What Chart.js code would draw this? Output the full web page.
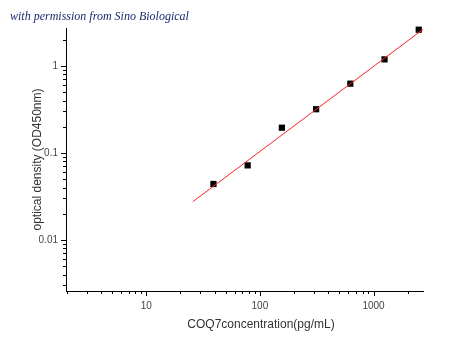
<!DOCTYPE html>
<html>
<head>
<meta charset="utf-8">
<script src="https://cdn.jsdelivr.net/npm/chart.js@4/dist/chart.umd.min.js"></script>
<style>
html,body{margin:0;padding:0;background:#fff;}
#c{display:block;}
</style>
</head>
<body>
<canvas id="c" width="450" height="358"></canvas>
<script>
// ---- data ----
const concentrations = [39.06, 78.13, 156.25, 312.5, 625, 1250, 2500];
const odValues = [0.044, 0.072, 0.195, 0.318, 0.626, 1.19, 2.61];
const fitConc = [25.7, 2735];
const fitOd = [0.0275, 2.64];
const xTickValues = [10, 100, 1000];
const xTickLabels = ['10', '100', '1000'];
const yTickValues = [0.01, 0.1, 1];
const yTickLabels = ['0.01', '0.1', '1'];
const watermark = 'with permission from Sino Biological';
const xTitle = 'COQ7concentration(pg/mL)';
const yTitle = 'optical density (OD450nm)';

const points = concentrations.map((x, i) => ({x: x, y: odValues[i]}));
const fitLine = fitConc.map((x, i) => ({x: x, y: fitOd[i]}));

function logMinorTicks(min, max) {
  const out = [];
  for (let e = Math.floor(Math.log10(min)) ; e <= Math.ceil(Math.log10(max)); e++) {
    for (let k = 1; k <= 9; k++) {
      const v = k * Math.pow(10, e);
      if (v >= min * 0.9999 && v <= max * 1.0001) out.push({v: v, major: k === 1});
    }
  }
  return out;
}

const tickMarks = {
  id: 'tickMarks',
  afterDraw(chart) {
    const ctx = chart.ctx;
    const xs = chart.scales.x, ys = chart.scales.y;
    const area = chart.chartArea;
    ctx.save();
    ctx.strokeStyle = '#000';
    ctx.lineWidth = 1;
    ctx.beginPath();
    logMinorTicks(xs.min, xs.max).forEach(t => {
      const px = Math.round(xs.getPixelForValue(t.v)) + 0.5;
      const len = t.major ? 5 : 3;
      ctx.moveTo(px, area.bottom);
      ctx.lineTo(px, area.bottom + len);
    });
    logMinorTicks(ys.min, ys.max).forEach(t => {
      const py = Math.round(ys.getPixelForValue(t.v)) + 0.5;
      const len = t.major ? 5 : 3;
      ctx.moveTo(area.left, py);
      ctx.lineTo(area.left - len, py);
    });
    ctx.stroke();
    // x axis title
    ctx.fillStyle = '#333';
    ctx.font = '12px "Liberation Sans", Arial, sans-serif';
    ctx.textAlign = 'center';
    ctx.textBaseline = 'middle';
    ctx.fillText(xTitle, 261, 325);
    // watermark
    ctx.fillStyle = '#1c2a6e';
    ctx.font = 'italic 12px "Liberation Serif", "DejaVu Serif", serif';
    ctx.textAlign = 'left';
    ctx.fillText(watermark, 10, 17);
    ctx.restore();
  }
};

new Chart(document.getElementById('c'), {
  type: 'scatter',
  data: {
    datasets: [
      {
        label: 'fit',
        data: fitLine,
        showLine: true,
        borderColor: '#ff2020',
        borderWidth: 1,
        pointRadius: 0,
        fill: false,
        clip: false
      },
      {
        label: 'data',
        data: points,
        pointStyle: 'rect',
        pointRadius: 4.4,
        backgroundColor: '#000',
        borderColor: '#000',
        borderWidth: 0,
        clip: false
      }
    ]
  },
  options: {
    responsive: false,
    animation: false,
    layout: {padding: {top: 28, right: 27, left: 0, bottom: 0}},
    plugins: {legend: {display: false}, tooltip: {enabled: false}},
    scales: {
      x: {
        type: 'logarithmic',
        min: 1.97,
        max: 2725,
        afterFit(s) { s.height = 67; },
        afterBuildTicks(s) { s.ticks = xTickValues.map(v => ({value: v})); },
        grid: {display: false, drawTicks: false},
        border: {display: true, color: '#000', width: 1},
        ticks: {
          autoSkip: false,
          maxRotation: 0,
          padding: 9,
          color: '#444',
          font: {family: '"Liberation Sans", Arial, sans-serif', size: 10},
          callback: (v) => { const i = xTickValues.indexOf(v); return i >= 0 ? xTickLabels[i] : ''; }
        }
      },
      y: {
        type: 'logarithmic',
        min: 0.00259,
        max: 2.73,
        afterFit(s) { s.width = 66; },
        afterBuildTicks(s) { s.ticks = yTickValues.map(v => ({value: v})); },
        grid: {display: false, drawTicks: false},
        border: {display: true, color: '#000', width: 1},
        title: {
          display: true,
          text: yTitle,
          color: '#333',
          font: {family: '"Liberation Sans", Arial, sans-serif', size: 12},
          padding: {top: 30, bottom: 0}
        },
        ticks: {
          autoSkip: false,
          padding: 8,
          color: '#444',
          font: {family: '"Liberation Sans", Arial, sans-serif', size: 10},
          callback: (v) => { const i = yTickValues.indexOf(v); return i >= 0 ? yTickLabels[i] : ''; }
        }
      }
    }
  },
  plugins: [tickMarks]
});
</script>
</body>
</html>
